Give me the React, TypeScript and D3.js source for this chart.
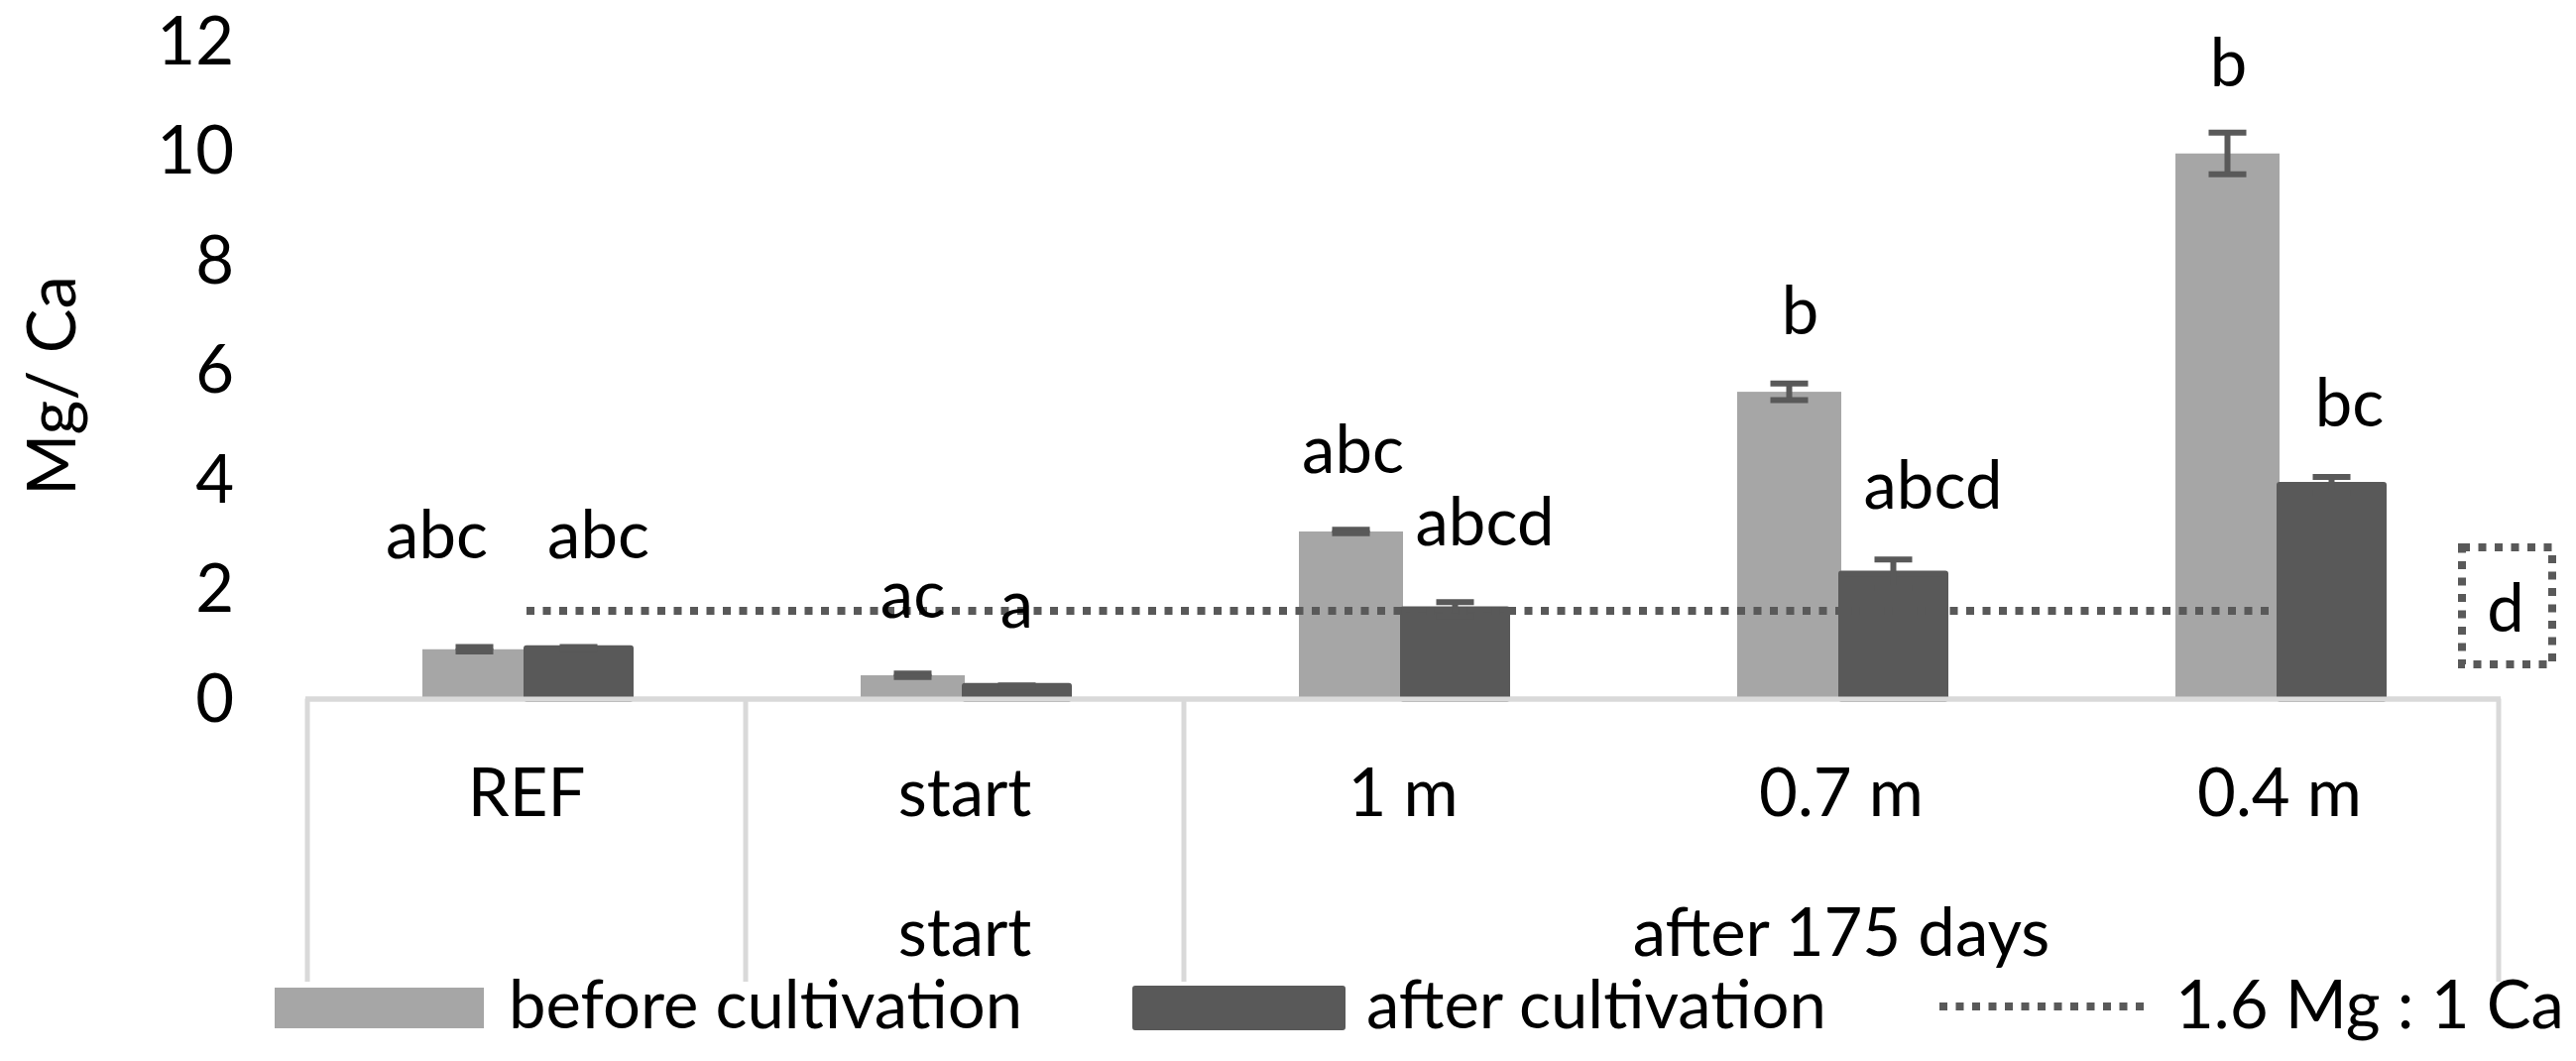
import React from "react";
import * as d3 from "d3";

// ---------- data ----------
const categories = ["REF", "start", "1 m", "0.7 m", "0.4 m"];
const groupLabels = ["", "start", "after 175 days"];
const groupMembers = [[0], [1], [2, 3, 4]];
const seriesNames = ["before cultivation", "after cultivation"];
const beforeValues = [0.9, 0.425, 3.05, 5.6, 9.95];
const beforeErr = [0.04, 0.03, 0.03, 0.15, 0.38];
const afterValues = [0.92, 0.23, 1.63, 2.28, 3.9];
const afterErr = [0.02, 0.01, 0.13, 0.26, 0.145];
const beforeLetters = ["abc", "ac", "abc", "b", "b"];
const afterLetters = ["abc", "a", "abcd", "abcd", "bc"];
const thresholdValue = 1.6;
const thresholdLabel = "1.6 Mg : 1 Ca";
const yTicks = [0, 2, 4, 6, 8, 10, 12];
const yTitle = "Mg/ Ca";
const boxLetter = "d";

// ---------- layout (annotation placement) ----------
const beforeLabelY = [2.56, 1.475, 4.12, 6.65, 11.18];
const beforeLabelDx = [-38, 0, 2, 11, 1];
const afterLabelY = [2.56, 1.294, 2.8, 3.47, 4.97];
const afterLabelDx = [20, 0, 30, 40, 18];

const W = 2598;
const H = 1070;
const FONT = "Lato, 'Open Sans', sans-serif";
const FS = 67;
const LIGHT = "#a6a6a6";
const DARK = "#595959";
const AXIS = "#d9d9d9";

export default function App() {
  const x = d3.scaleBand<string>().domain(categories).range([310, 2520]).padding(0);
  const y = d3.scaleLinear().domain([0, 12]).range([704.5, 41.5]);
  const barW = 105;
  const sub = d3.scaleBand<string>().domain(seriesNames).range([-barW, barW]).padding(0);
  const cx = (c: string) => (x(c) as number) + x.bandwidth() / 2;
  const y0 = y(0);
  const capW = 38;
  const dash = "8 8.5";

  const errBar = (xc: number, v: number, e: number, key: string) => (
    <g key={key} stroke={DARK} strokeWidth={6}>
      <line x1={xc} x2={xc} y1={y(v - e)} y2={y(v + e)} />
      <line x1={xc - capW / 2} x2={xc + capW / 2} y1={y(v + e)} y2={y(v + e)} />
      <line x1={xc - capW / 2} x2={xc + capW / 2} y1={y(v - e)} y2={y(v - e)} />
    </g>
  );

  // separators at group boundaries
  const sepX: number[] = [x(categories[0]) as number];
  groupMembers.forEach((m) => {
    const last = categories[m[m.length - 1]];
    sepX.push((x(last) as number) + x.bandwidth());
  });

  return (
    <svg width={W} height={H} style={{ position: "absolute", left: 0, top: 0, background: "#fff" }}
      fontFamily={FONT} fontSize={FS}>
      <rect x={0} y={0} width={W} height={H} fill="#fff" />
      {/* y tick labels */}
      {yTicks.map((t) => (
        <text key={t} x={236} y={y(t)} dy="0.35em" textAnchor="end" fill="#000">{t}</text>
      ))}
      <text transform={`translate(76,389) rotate(-90)`} textAnchor="middle" fill="#000">{yTitle}</text>

      {/* axis + separators */}
      <line x1={308} x2={2522} y1={y0 + 0.5} y2={y0 + 0.5} stroke={AXIS} strokeWidth={5} />
      {sepX.map((sx, i) => (
        <line key={i} x1={sx} x2={sx} y1={y0} y2={990} stroke={AXIS} strokeWidth={5} />
      ))}

      {/* bars */}
      {categories.map((c, i) => (
        <rect key={"b" + c} x={cx(c) + (sub(seriesNames[0]) as number)} width={sub.bandwidth()}
          y={y(beforeValues[i])} height={y0 - y(beforeValues[i])} fill={LIGHT} />
      ))}
      {categories.map((c, i) => (
        <rect key={"a" + c} x={cx(c) + (sub(seriesNames[1]) as number)} width={sub.bandwidth()}
          y={y(afterValues[i])} height={y0 - y(afterValues[i])} fill={DARK}
          stroke={DARK} strokeWidth={6} strokeLinejoin="round" />
      ))}
      {/* redraw axis over dark bar strokes */}
      <line x1={308} x2={2522} y1={y0 + 0.5} y2={y0 + 0.5} stroke={AXIS} strokeWidth={5} />

      {/* error bars */}
      {categories.map((c, i) =>
        errBar(cx(c) + (sub(seriesNames[0]) as number) + sub.bandwidth() / 2, beforeValues[i], beforeErr[i], "eb" + i)
      )}
      {categories.map((c, i) =>
        errBar(cx(c) + (sub(seriesNames[1]) as number) + sub.bandwidth() / 2, afterValues[i], afterErr[i], "ea" + i)
      )}

      {/* threshold dotted line */}
      <line x1={cx(categories[0])} x2={cx(categories[categories.length - 1]) + 4}
        y1={y(thresholdValue)} y2={y(thresholdValue)} stroke={DARK} strokeWidth={8} strokeDasharray={dash} />

      {/* letter labels */}
      {categories.map((c, i) => (
        <text key={"lb" + i} x={cx(c) + (sub(seriesNames[0]) as number) + sub.bandwidth() / 2 + beforeLabelDx[i]}
          y={y(beforeLabelY[i])} textAnchor="middle" fill="#000">{beforeLetters[i]}</text>
      ))}
      {categories.map((c, i) => (
        <text key={"la" + i} x={cx(c) + (sub(seriesNames[1]) as number) + sub.bandwidth() / 2 + afterLabelDx[i]}
          y={y(afterLabelY[i])} textAnchor="middle" fill="#000">{afterLetters[i]}</text>
      ))}

      {/* d box */}
      <rect x={2483} y={552} width={91} height={118} fill="none" stroke={DARK} strokeWidth={8} strokeDasharray={dash} />
      <text x={2527} y={637} textAnchor="middle" fill="#000">{boxLetter}</text>

      {/* category labels */}
      {categories.map((c) => (
        <text key={"c" + c} x={cx(c)} y={823} textAnchor="middle" fill="#000">{c}</text>
      ))}
      {groupLabels.map((g, i) => {
        const m = groupMembers[i];
        const x1 = x(categories[m[0]]) as number;
        const x2 = (x(categories[m[m.length - 1]]) as number) + x.bandwidth();
        return (
          <text key={"g" + i} x={(x1 + x2) / 2} y={964} textAnchor="middle" fill="#000">{g}</text>
        );
      })}

      {/* legend */}
      <rect x={277} y={996} width={211} height={41} fill={LIGHT} />
      <text x={513} y={1037} fill="#000">{seriesNames[0]}</text>
      <rect x={1145} y={997} width={209} height={39} fill={DARK} stroke={DARK} strokeWidth={6} strokeLinejoin="round" />
      <text x={1378} y={1037} fill="#000">{seriesNames[1]}</text>
      <line x1={1956} x2={2166} y1={1015} y2={1015} stroke={DARK} strokeWidth={8} strokeDasharray={dash} />
      <text x={2194} y={1037} fill="#000">{thresholdLabel}</text>
    </svg>
  );
}
